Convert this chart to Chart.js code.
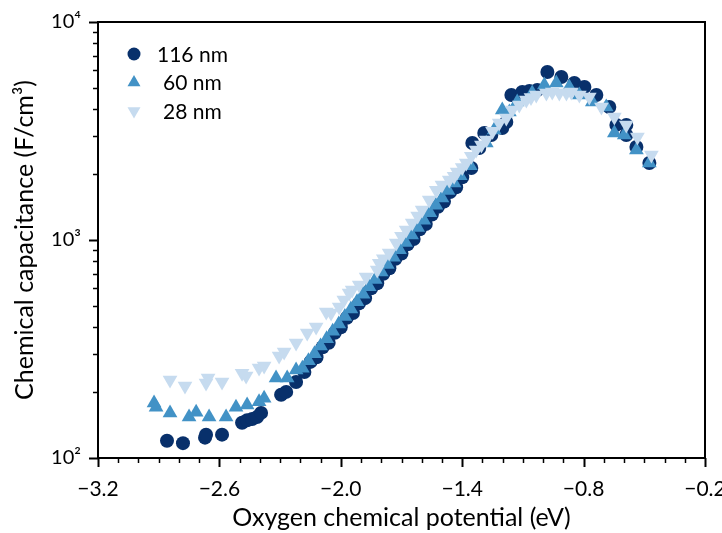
<!DOCTYPE html>
<html>
<head>
<meta charset="utf-8">
<script src="https://cdn.jsdelivr.net/npm/chart.js@4/dist/chart.umd.min.js"></script>
<style>
html,body{margin:0;padding:0;background:#fff;}
</style>
</head>
<body>
<canvas id="chart" width="722" height="533"></canvas>
<script>
// --- data (x in eV, y in F/cm^3)
const seriesLabels = ['116 nm', '60 nm', '28 nm'];

const x116 = [-2.859,-2.780,-2.671,-2.666,-2.587,-2.488,-2.463,-2.438,-2.414,-2.394,-2.295,-2.270,-2.221,
  -2.18,-2.15,-2.12,-2.09,-2.06,-2.03,-2.00,-1.97,-1.94,-1.91,-1.88,-1.85,-1.82,-1.79,-1.76,-1.73,-1.70,
  -1.67,-1.64,-1.61,-1.58,-1.55,-1.52,-1.49,-1.46,-1.43,-1.40,
  -1.355,-1.350,-1.316,-1.291,-1.256,-1.202,-1.182,-1.157,-1.103,-1.068,-1.029,-0.979,-0.910,-0.846,
  -0.796,-0.737,-0.673,-0.638,-0.589,-0.589,-0.539,-0.475];
const y116 = [120,117,124,128,128,145,149,151,154,161,195,201,223,
  248,276,290,322,338,375,398,440,462,512,541,600,633,700,742,820,866,
  955,1010,1120,1185,1310,1420,1500,1660,1745,1940,
  2138,2786,2642,3097,3033,3266,3475,4624,4775,4822,4874,5900,5597,5250,
  5035,4624,4074,3373,3373,3033,2673,2254];

const x60 = [-2.923,-2.913,-2.844,-2.750,-2.715,-2.651,-2.567,-2.518,-2.463,-2.404,-2.379,-2.320,-2.265,-2.221,
  -2.19,-2.16,-2.13,-2.10,-2.07,-2.04,-2.01,-1.98,-1.95,-1.92,-1.89,-1.86,-1.83,-1.80,-1.77,-1.74,
  -1.71,-1.68,-1.65,-1.62,-1.59,-1.56,-1.53,-1.50,-1.47,-1.44,-1.41,
  -1.36,-1.281,-1.242,-1.202,-1.167,-1.128,-1.054,-0.994,-0.935,-0.871,-0.821,-0.757,-0.688,
  -0.648,-0.599,-0.539,-0.475];
const y60 = [179,171,161,154,162,154,154,171,175,181,188,233,233,253,
  258,279,301,326,352,381,412,446,482,521,564,610,659,713,771,834,
  902,975,1054,1140,1233,1334,1442,1560,1687,1824,1972,
  2190,2786,3199,3945,3862,4295,4722,5145,5250,5035,4624,4295,4074,
  3097,3033,2588,2254];

const x28 = [-2.844,-2.770,-2.666,-2.656,-2.587,-2.488,-2.468,-2.404,-2.379,-2.305,-2.280,-2.221,-2.166,-2.122,
  -2.072,-2.048,-2.008,-1.985,-1.959,-1.944,-1.909,-1.875,-1.820,-1.810,-1.79,-1.761,-1.726,-1.70,
  -1.677,-1.647,-1.62,-1.598,-1.563,-1.528,-1.50,-1.464,-1.44,-1.425,-1.40,-1.380,-1.355,-1.331,
  -1.305,-1.281,-1.25,-1.217,-1.182,-1.153,-1.118,-1.083,-1.06,-1.034,-0.984,-0.955,-0.920,-0.885,
  -0.861,-0.821,-0.772,-0.712,-0.648,-0.589,-0.534,-0.465];
const y28 = [228,214,221,233,223,245,238,259,264,294,306,337,374,399,
  468,462,493,530,571,590,622,676,728,783,820,871,968,1040,
  1111,1197,1290,1374,1524,1693,1790,1883,1960,2051,2150,2254,2420,2588,
  2730,2877,3150,3443,3631,3945,4159,4385,4500,4624,4722,4775,4722,4722,
  4775,4624,4529,4074,3664,3373,2965,2455];

const colors = ['#08306b', '#4292c6', '#c6dbef'];
const styles = [
  {pointStyle:'circle', radius:7, rotation:0},
  {pointStyle:'triangle', radius:8.5, rotation:0},
  {pointStyle:'triangle', radius:8.5, rotation:180}
];

const xMin = -3.2, xMax = -0.2;
const yMin = 100, yMax = 10000;
const FONT = 'Lato';

const toPts = (xs, ys) => xs.map((v, i) => ({x: v, y: ys[i]}));
const allX = [x116, x60, x28], allY = [y116, y60, y28];

const datasets = seriesLabels.map((lab, i) => ({
  label: lab,
  data: toPts(allX[i], allY[i]),
  pointStyle: styles[i].pointStyle,
  pointRadius: styles[i].radius,
  pointRotation: styles[i].rotation,
  pointBackgroundColor: colors[i],
  pointBorderWidth: 0,
  pointHoverRadius: styles[i].radius,
  order: 3 - i
}));

const supDigits = {'2':'²','3':'³','4':'⁴'};

// --- frame, outward ticks and inset legend
const framePlugin = {
  id: 'frame',
  afterDraw(chart){
    const {ctx, chartArea:a, scales:{x, y}} = chart;
    ctx.save();
    ctx.strokeStyle = '#000';
    ctx.lineWidth = 2;
    ctx.strokeRect(a.left, a.top, a.right - a.left, a.bottom - a.top);

    // x ticks every 0.1, major every 0.6
    for(let i = 0; i <= 30; i++){
      const v = xMin + i*0.1;
      const px = Math.round(x.getPixelForValue(v)) + 0.5;
      const major = i % 6 === 0;
      ctx.lineWidth = major ? 2 : 1.5;
      ctx.beginPath();
      ctx.moveTo(px, a.bottom);
      ctx.lineTo(px, a.bottom + (major ? 9 : 5));
      ctx.stroke();
    }
    // y log ticks
    for(let dec = yMin; dec <= yMax; dec *= 10){
      for(let m = 1; m <= 9; m++){
        const v = m*dec;
        if(v > yMax) break;
        const py = Math.round(y.getPixelForValue(v)) + 0.5;
        const major = m === 1;
        ctx.lineWidth = major ? 2 : 1.5;
        ctx.beginPath();
        ctx.moveTo(a.left, py);
        ctx.lineTo(a.left - (major ? 9 : 5), py);
        ctx.stroke();
      }
    }

    // legend
    const lx = a.left + 36, ly0 = a.top + 32, dy = 28.5;
    const textX = [a.left + 59, a.left + 65, a.left + 65];
    ctx.font = `21px ${FONT}`;
    ctx.textBaseline = 'middle';
    ctx.textAlign = 'left';
    seriesLabels.forEach((lab, i) => {
      const cy = ly0 + i*dy;
      ctx.fillStyle = colors[i];
      Chart.helpers.drawPoint(ctx, {
        pointStyle: styles[i].pointStyle,
        radius: i === 0 ? 6.5 : 7.5,
        rotation: styles[i].rotation,
        borderWidth: 0
      }, lx, cy);
      ctx.fillStyle = '#000';
      ctx.fillText(lab, textX[i], cy + 1);
    });
    ctx.restore();
  }
};

new Chart(document.getElementById('chart'), {
  type: 'scatter',
  data: {datasets},
  options: {
    responsive: false,
    animation: false,
    layout: {padding: {left: 0, right: 17, top: 22, bottom: 0}},
    plugins: {legend: {display: false}, tooltip: {enabled: false}},
    scales: {
      x: {
        type: 'linear',
        min: xMin, max: xMax,
        border: {display: false},
        grid: {display: true, drawOnChartArea: false, drawTicks: true, tickLength: 9, color: 'rgba(0,0,0,0)'},
        ticks: {
          stepSize: 0.6,
          color: '#000',
          padding: 10,
          font: {family: FONT, size: 21},
          callback: v => (v < -1e-9 ? '\u2212' : '') + Math.abs(v).toFixed(1)
        },
        title: {
          display: true,
          text: 'Oxygen chemical potential (eV)',
          color: '#000',
          font: {family: FONT, size: 25},
          padding: {top: 0, bottom: 0}
        },
        afterFit: s => { s.height = 75; s.paddingLeft = 0; s.paddingRight = 0; }
      },
      y: {
        type: 'logarithmic',
        min: yMin, max: yMax,
        border: {display: false},
        grid: {display: true, drawOnChartArea: false, drawTicks: true, tickLength: 9, color: 'rgba(0,0,0,0)'},
        ticks: {
          autoSkip: false,
          color: '#000',
          padding: 8,
          font: {family: FONT, size: 20},
          callback: v => {
            const e = Math.log10(v);
            if(Math.abs(e - Math.round(e)) > 1e-6) return '';
            return '10' + supDigits[String(Math.round(e))];
          }
        },
        title: {
          display: true,
          text: 'Chemical capacitance (F/cm³)',
          color: '#000',
          font: {family: FONT, size: 25},
          padding: {top: 10, bottom: 0}
        },
        afterFit: s => { s.width = 98; s.paddingTop = 0; s.paddingBottom = 0; }
      }
    }
  },
  plugins: [framePlugin]
});
</script>
</body>
</html>
